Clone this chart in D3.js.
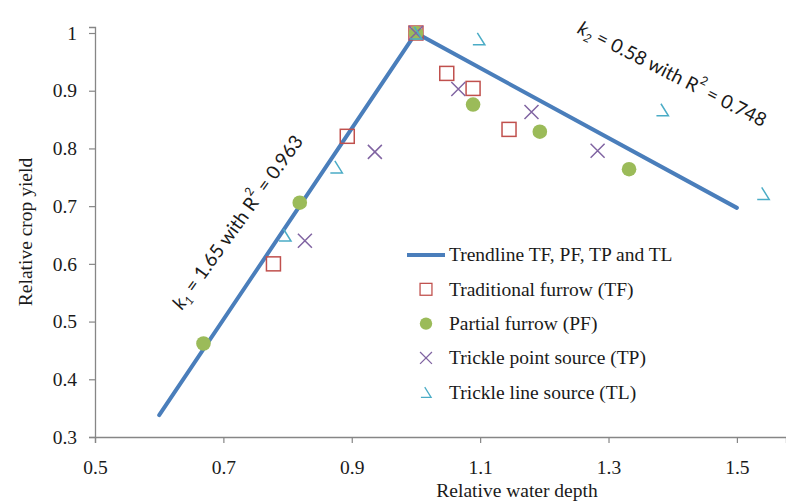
<!DOCTYPE html>
<html>
<head>
<meta charset="utf-8">
<script src="https://cdn.jsdelivr.net/npm/d3@7"></script>
<style>
  body { margin: 0; background: #fff; }
  svg text { fill: #1a1a1a; }
</style>
</head>
<body>
<div id="chart"></div>
<script>
// relative water depth / relative crop yield
const tfX = [0.778, 0.893, 1.0, 1.048, 1.089, 1.145];
const tfY = [0.600, 0.821, 1.0, 0.930, 0.904, 0.833];
const pfX = [0.669, 0.819, 1.0, 1.089, 1.193, 1.332];
const pfY = [0.462, 0.706, 1.0, 0.876, 0.829, 0.764];
const tpX = [0.827, 0.936, 1.0, 1.066, 1.180, 1.283];
const tpY = [0.640, 0.794, 1.0, 0.903, 0.863, 0.796];
const tlX = [0.796, 0.876, 1.0, 1.098, 1.384, 1.541];
const tlY = [0.650, 0.768, 1.0, 0.990, 0.867, 0.722];

// broken trendline (k1 rising, k2 falling)
const trendX = [0.6, 1.0, 1.5];
const trendY = [0.338, 1.0, 0.697];

const xTicks = [0.5, 0.7, 0.9, 1.1, 1.3, 1.5];
const yTicks = [0.3, 0.4, 0.5, 0.6, 0.7, 0.8, 0.9, 1.0];

const seriesNames = ["Traditional furrow (TF)", "Partial furrow (PF)",
  "Trickle point source (TP)", "Trickle line source (TL)"];
const trendName = "Trendline TF, PF, TP and TL";

const width = 786, height = 503;
const serif = "'Liberation Serif', 'Times New Roman', serif";
const sans = "Lato, 'Open Sans', sans-serif";
const axisColor = "#868686";

const svg = d3.select("#chart").append("svg")
  .attr("width", width)
  .attr("height", height);

const x = d3.scaleLinear().domain([0.5, 1.5765]).range([95, 786]);
const y = d3.scaleLinear().domain([0.3, 1.0104]).range([437, 27]);

// axes
const fmt = d3.format(".1~f");
const xAxis = svg.append("g")
  .attr("transform", "translate(0," + y(0.3) + ")")
  .call(d3.axisBottom(x).tickValues(xTicks).tickFormat(fmt).tickSizeOuter(0).tickSize(6).tickPadding(17));
const yAxis = svg.append("g")
  .attr("transform", "translate(" + x(0.5) + ",0)")
  .call(d3.axisLeft(y).tickValues(yTicks).tickFormat(fmt).tickSizeOuter(0).tickSize(6).tickPadding(12));

[xAxis, yAxis].forEach(function (g) {
  g.select(".domain").attr("stroke", axisColor).attr("stroke-width", 1.3);
  g.selectAll(".tick line").attr("stroke", axisColor).attr("stroke-width", 1.2);
  g.selectAll(".tick text")
    .style("font-family", serif)
    .style("font-size", "19.5px")
    .attr("fill", "#1a1a1a");
});

// axis titles
svg.append("text")
  .attr("x", 517)
  .attr("y", 497)
  .attr("text-anchor", "middle")
  .style("font-family", serif)
  .style("font-size", "19.5px")
  .text("Relative water depth");

svg.append("text")
  .attr("transform", "translate(32,232) rotate(-90)")
  .attr("text-anchor", "middle")
  .style("font-family", serif)
  .style("font-size", "19.5px")
  .text("Relative crop yield");

// trendline
const line = d3.line().x(d => x(d[0])).y(d => y(d[1]));
svg.append("path")
  .datum(d3.zip(trendX, trendY))
  .attr("d", line)
  .attr("fill", "none")
  .attr("stroke", "#4A7EBB")
  .attr("stroke-width", 4)
  .attr("stroke-linejoin", "miter")
  .attr("stroke-linecap", "round");

// marker drawers
const colors = ["#C0504D", "#9BBB59", "#8064A2", "#4BACC6"];
const markers = [
  function (g) { // square
    g.append("rect").attr("x", -7).attr("y", -7).attr("width", 14).attr("height", 14)
      .attr("fill", "none").attr("stroke", colors[0]).attr("stroke-width", 1.5);
  },
  function (g) { // filled circle
    g.append("circle").attr("r", 7.3).attr("fill", colors[1]);
  },
  function (g) { // cross
    g.append("path").attr("d", "M-7,-7L7,7M-7,7L7,-7")
      .attr("fill", "none").attr("stroke", colors[2]).attr("stroke-width", 1.5);
  },
  function (g) { // open triangle, Excel-style with left edge faint
    g.append("path").attr("d", "M-6,6L6,6L-1.5,-6")
      .attr("fill", "none").attr("stroke", colors[3]).attr("stroke-width", 1.5);
  }
];

const series = [d3.zip(tfX, tfY), d3.zip(pfX, pfY), d3.zip(tpX, tpY), d3.zip(tlX, tlY)];
series.forEach(function (pts, i) {
  svg.append("g").selectAll("g")
    .data(pts)
    .join("g")
    .attr("transform", d => "translate(" + x(d[0]) + "," + y(d[1]) + ")")
    .each(function () { markers[i](d3.select(this)); });
});

// slope annotations
function annotate(cx, cy, angle, sub, k, r2) {
  const t = svg.append("text")
    .attr("transform", "translate(" + x(cx) + "," + y(cy) + ") rotate(" + angle + ")")
    .attr("text-anchor", "middle")
    .attr("dominant-baseline", "central")
    .style("font-family", sans)
    .style("font-size", "19px");
  t.append("tspan").style("font-style", "italic").text("k");
  t.append("tspan").attr("baseline-shift", "sub").style("font-size", "12px").style("font-style", "italic").text(sub);
  t.append("tspan").text(" = " + k + " with R");
  t.append("tspan").attr("baseline-shift", "super").style("font-size", "12px").text("2");
  t.append("tspan").text(" = " + r2);
}
annotate(0.7204, 0.6737, -54.3, "1", "1.65", "0.963");
annotate(1.4003, 0.931, 27, "2", "0.58", "0.748");

// legend
const legend = svg.append("g");
const rowY = d => 255 + d * 34.3;
legend.append("line")
  .attr("x1", 407).attr("x2", 445)
  .attr("y1", rowY(0)).attr("y2", rowY(0))
  .attr("stroke", "#4A7EBB").attr("stroke-width", 4);
legend.append("text")
  .attr("x", 449).attr("y", rowY(0))
  .attr("dy", "0.33em")
  .style("font-family", serif).style("font-size", "19.5px")
  .text(trendName);

seriesNames.forEach(function (name, i) {
  const row = legend.append("g").attr("transform", "translate(0," + rowY(i + 1) + ")");
  const m = row.append("g").attr("transform", "translate(426,0) scale(0.85)");
  markers[i](m);
  row.append("text")
    .attr("x", 449)
    .attr("dy", "0.33em")
    .style("font-family", serif).style("font-size", "19.5px")
    .text(name);
});
</script>
</body>
</html>
